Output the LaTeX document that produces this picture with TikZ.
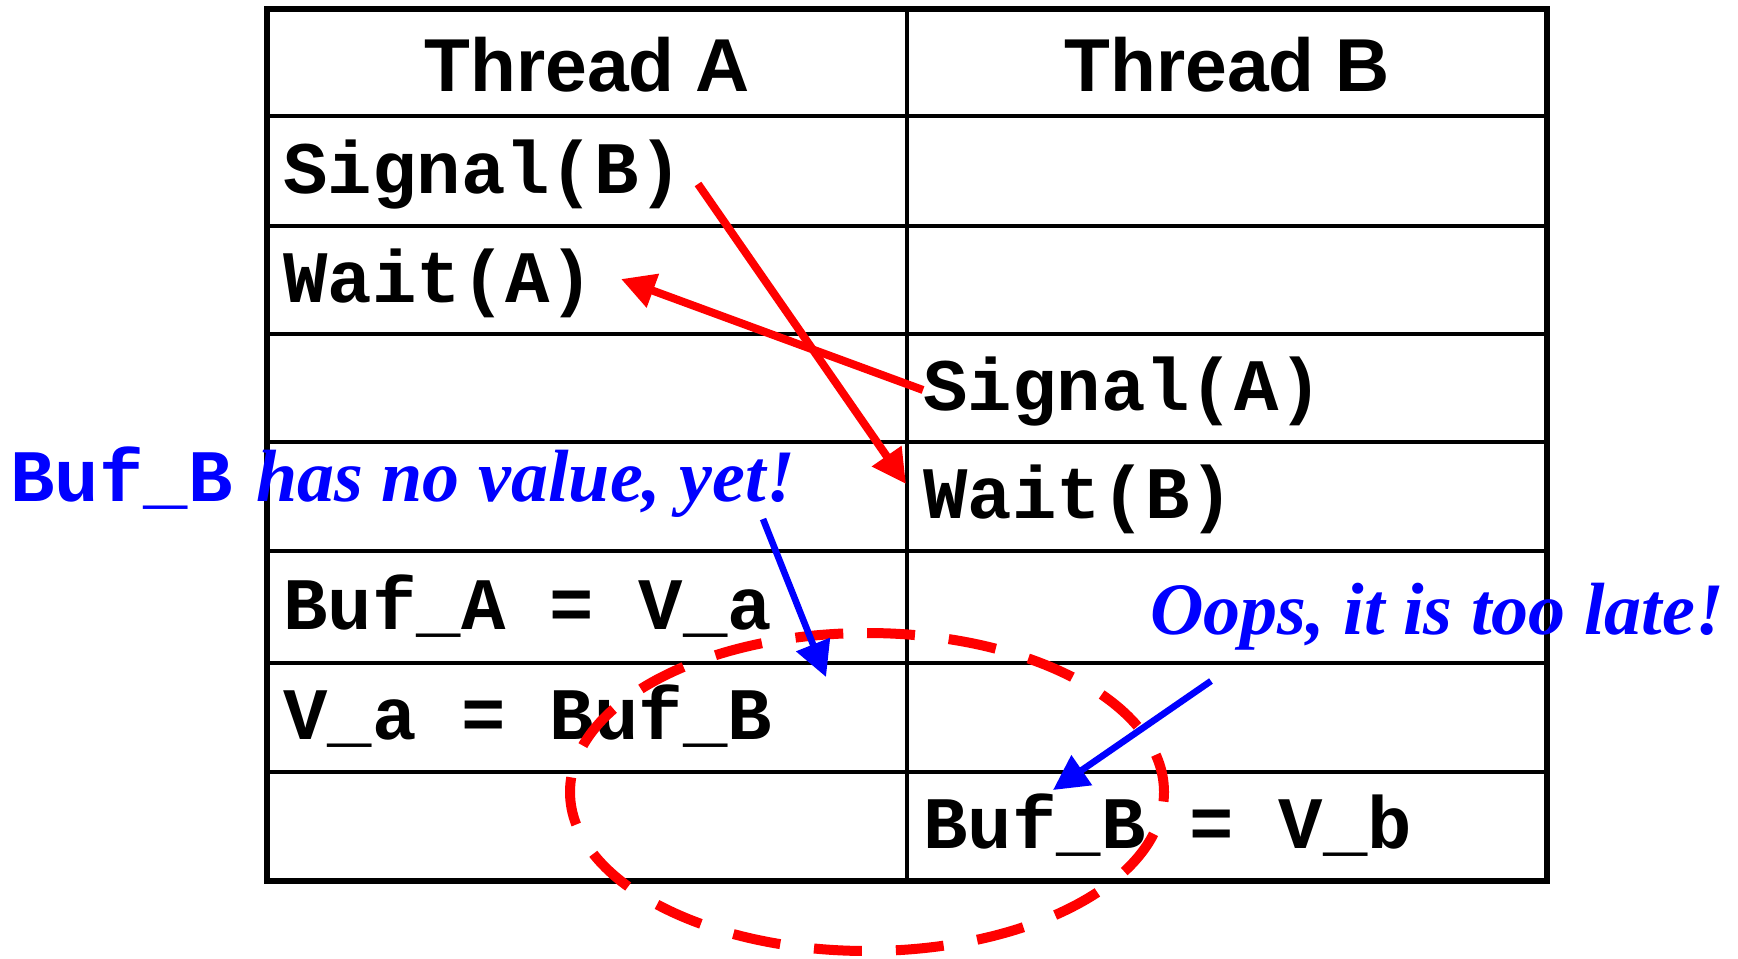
\documentclass[tikz,border=0pt]{standalone}
\usepackage{fontspec}
\setmainfont{Liberation Serif}
\setsansfont{Liberation Sans}
\setmonofont{Liberation Mono}
\usetikzlibrary{arrows.meta,positioning}

\begin{document}
\begin{tikzpicture}[
  x=0.5pt,y=-0.5pt,
  head/.style={anchor=base,inner sep=0pt,font=\fontsize{37.5}{45}\selectfont\sffamily\bfseries},
  code/.style={anchor=base west,inner sep=0pt,font=\fontsize{37}{44}\selectfont\ttfamily\bfseries},
  note/.style={anchor=base west,inner sep=0pt,text=blue,font=\fontsize{37}{44}\selectfont\rmfamily\bfseries\itshape},
  tabline/.style={draw,line width=1.7pt},
  frame/.style={draw,line width=3pt},
  sig/.style={draw=red,line width=4pt,-{Triangle[length=17pt,width=17pt]}},
  hint/.style={draw=blue,line width=3.3pt,-{Triangle[length=17.5pt,width=17.5pt]}},
  ring/.style={draw=red,line width=5pt,dash pattern=on 24pt off 17pt}
]
  \useasboundingbox (0,0) rectangle (1738,958);
  \path[tabline] (267,116) -- (1547,116) (267,226) -- (1547,226)
    (267,334) -- (1547,334) (267,442) -- (1547,442) (267,551) -- (1547,551)
    (267,663) -- (1547,663) (267,772) -- (1547,772) (907,9) -- (907,881);
  \path[frame] (267,9) rectangle (1547,881);
  \node[head] (tha) at (587,91) {Thread A};
  \node[head] (thb) at (1227,91) {Thread B};
  \node[code] (sigB) at (283,193) {Signal(B)};
  \node[code] (waitA) at (283,302) {Wait(A)};
  \node[code] (sigA) at (923,410) {Signal(A)};
  \node[code] (waitB) at (923,518) {Wait(B)};
  \node[code] (bufA) at (283,629) {Buf\_A = V\_a};
  \node[code] (va) at (283,739) {V\_a = Buf\_B};
  \node[code] (bufB) at (923,848) {Buf\_B = V\_b};
  \node[code,text=blue] (bufnote) at (10,501) {Buf\_B};
  \node[note] (novalue) at (256,501) {has no value, yet!};
  \node[note] (oops) at (1150,634) {Oops, it is too late!};
  \path[ring] (867,633) arc[start angle=90,end angle=-270,x radius=148.5pt,y radius=79.5pt];
  \path ([shift={(415,-9)}]sigB.base west) edge[sig] ([shift={(-17,-34)}]waitB.base west);
  \path ([shift={(0,-20)}]sigA.base west) edge[sig] ([shift={(338,-23)}]waitA.base west);
  \path ([shift={(507,18)}]novalue.base west) edge[hint] ([shift={(543,48)}]bufA.base west);
  \path ([shift={(61,47)}]oops.base west) edge[hint] ([shift={(130,-58)}]bufB.base west);
\end{tikzpicture}
\end{document}
